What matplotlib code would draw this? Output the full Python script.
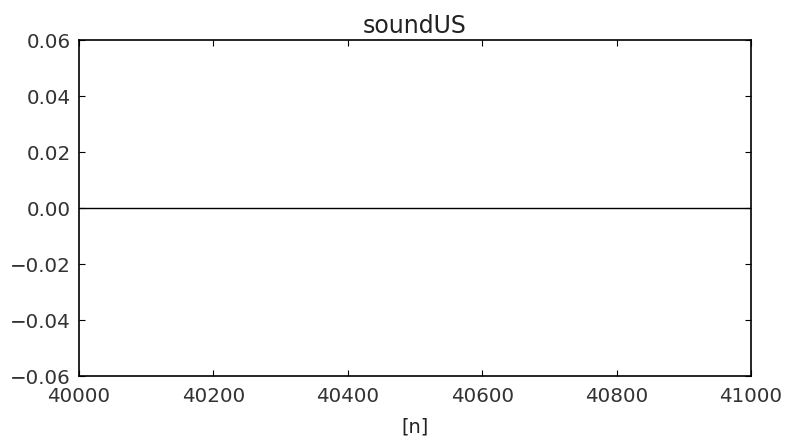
import matplotlib
matplotlib.use("Agg")
import matplotlib.pyplot as plt

title = "soundUS"
xlabel = "[n]"
n = [40000, 41000]
values = [0.0, 0.0]
xticks = [40000, 40200, 40400, 40600, 40800, 41000]
yticks = [-0.06, -0.04, -0.02, 0.00, 0.02, 0.04, 0.06]

plt.rcParams['font.family'] = ['DejaVu Sans']

fig = plt.figure(figsize=(7.85, 4.41), dpi=100)
ax = fig.add_axes([79/785, 1-376/441, (751-79)/785, (376-40)/441])
ax.plot(n, values, color='black', linewidth=1.0)
ax.set_xlim(40000, 41000)
ax.set_ylim(-0.06, 0.06)
ax.set_xticks(xticks)
ax.set_yticks(yticks)
ax.set_yticklabels([f"{v:.2f}".replace("-", "\u2212") for v in yticks])
ax.tick_params(direction='in', top=True, right=True, length=4, width=0.8,
               labelsize=14.3, colors='black', labelcolor='#333333')
ax.tick_params(axis='x', pad=8)
ax.tick_params(axis='y', pad=6)
for s in ax.spines.values():
    s.set_linewidth(1.2)
ax.set_title(title, fontsize=17, color='#222222', pad=5)
ax.set_xlabel(xlabel, fontsize=14, color='#222222', labelpad=8)
fig.savefig("out.png", dpi=100)
